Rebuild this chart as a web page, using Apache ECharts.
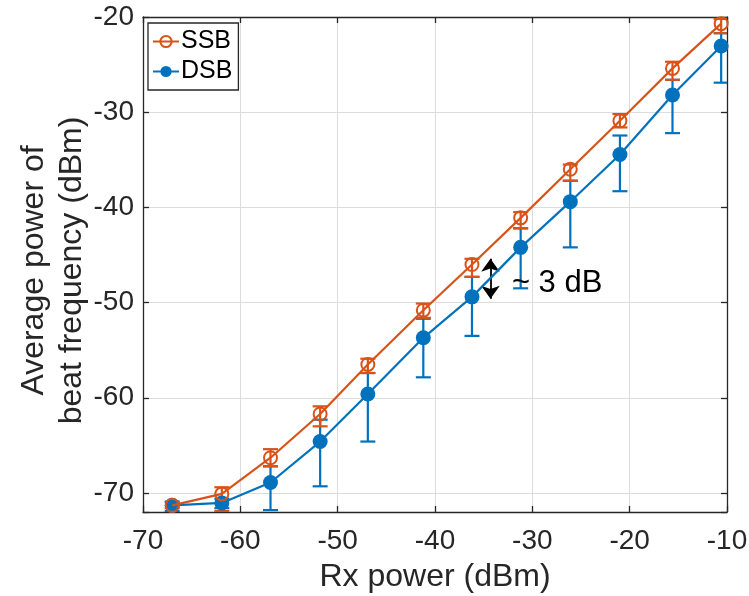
<!DOCTYPE html>
<html>
<head>
<meta charset="utf-8">
<script src="https://cdn.jsdelivr.net/npm/echarts@6/dist/echarts.min.js"></script>
<style>
html,body{margin:0;padding:0;background:#fff;}
#chart{width:749px;height:596px;}
</style>
</head>
<body>
<div id="chart"></div>
<script>
// Data
var rxPower = [-67, -61.9, -56.9, -51.8, -46.9, -41.2, -36.2, -31.2, -26.1, -21.0, -15.6, -10.6];
var ssbMean = [-71.3, -70.1, -66.3, -61.7, -56.5, -50.8, -46.0, -41.1, -36.0, -30.9, -25.4, -20.7];
var ssbHigh = [-71.0, -69.4, -65.4, -60.9, -55.9, -50.1, -45.4, -40.5, -35.5, -30.2, -24.7, -20.2];
var ssbLow  = [-71.6, -71.9, -67.2, -63.0, -57.4, -51.6, -47.3, -42.2, -37.2, -31.6, -26.6, -21.7];
var dsbMean = [-71.3, -71.05, -68.9, -64.6, -59.6, -53.7, -49.4, -44.2, -39.4, -34.45, -28.2, -23.05];
var dsbHigh = [-70.9, -70.6, -67.2, -62.3, -57.4, -51.7, -47.3, -42.2, -37.2, -32.45, -26.6, -21.7];
var dsbLow  = [-71.9, -71.6, -71.8, -69.3, -64.6, -57.85, -53.5, -48.5, -44.2, -38.3, -32.2, -26.9];
var xTicks = [-70, -60, -50, -40, -30, -20, -10];
var yTicks = [-70, -60, -50, -40, -30, -20];
var arrowX = -34.3, arrowTop = -45.4, arrowBottom = -49.6;
var noteX = -32.1, noteY = -48.0, noteText = '~ 3 dB';

var SSB_COLOR = '#D95319', DSB_COLOR = '#0072BD', AX = '#262626';
var FONT = '"Liberation Sans", Arial, Helvetica, sans-serif';

function pairs(xs, ys){ return xs.map(function(x,i){ return [x, ys[i]]; }); }
function triples(xs, lo, hi){ return xs.map(function(x,i){ return [x, lo[i], hi[i]]; }); }

function errRender(color){
  return function(params, api){
    var x = api.value(0), lo = api.value(1), hi = api.value(2);
    var p1 = api.coord([x, lo]), p2 = api.coord([x, hi]);
    var w = 7.5, st = {stroke: color, lineWidth: 2.2};
    return {type:'group', children:[
      {type:'line', shape:{x1:p1[0], y1:p1[1], x2:p2[0], y2:p2[1]}, style:st},
      {type:'line', shape:{x1:p1[0]-w, y1:p1[1], x2:p1[0]+w, y2:p1[1]}, style:st},
      {type:'line', shape:{x1:p2[0]-w, y1:p2[1], x2:p2[0]+w, y2:p2[1]}, style:st}
    ]};
  };
}

var chart = echarts.init(document.getElementById('chart'), null, {renderer:'canvas'});
var axisCommon = {
  axisLine:{show:true, lineStyle:{color:AX, width:1.3}},
  axisTick:{show:true, inside:true, length:6, lineStyle:{color:AX, width:1.3}}
};
var option = {
  animation:false,
  backgroundColor:'#fff',
  textStyle:{fontFamily:FONT},
  grid:{left:143, right:22, top:17, bottom:84, containLabel:false, outerBoundsMode:'none'},
  legend:{
    left:148, top:23, orient:'vertical',
    data:['SSB','DSB'],
    backgroundColor:'#fff', borderColor:AX, borderWidth:1.3,
    padding:[6,6,6,4], itemGap:5, itemWidth:26, itemHeight:14,
    textStyle:{fontSize:25, color:'#000', fontFamily:FONT, padding:[0,0,0,-3]}
  },
  xAxis:[
    Object.assign({type:'value', min:xTicks[0], max:xTicks[xTicks.length-1], interval:10, position:'bottom',
      name:'Rx power (dBm)', nameLocation:'middle', nameGap:49,
      nameTextStyle:{fontSize:32, color:AX, fontFamily:FONT},
      axisLabel:{fontSize:28, color:AX, margin:15, fontFamily:FONT},
      splitLine:{show:true, lineStyle:{color:'#dcdcdc', width:1}}}, axisCommon),
    Object.assign({type:'value', min:xTicks[0], max:xTicks[xTicks.length-1], interval:10, position:'top',
      axisLabel:{show:false}, splitLine:{show:false}}, axisCommon)
  ],
  yAxis:[
    Object.assign({type:'value', min:-72, max:yTicks[yTicks.length-1], splitNumber:5, position:'left',
      name:'Average power of\nbeat frequency (dBm)', nameLocation:'middle', nameGap:52, nameRotate:90,
      nameMoveOverlap:false,
      nameTextStyle:{fontSize:32, color:AX, lineHeight:38, fontFamily:FONT, padding:[0,12,0,0]},
      axisLabel:{fontSize:28, color:AX, margin:9, fontFamily:FONT,
        formatter:function(v){ return yTicks.indexOf(v) >= 0 ? String(v) : ''; }},
      splitLine:{show:true, lineStyle:{color:'#dcdcdc', width:1}}}, axisCommon),
    Object.assign({type:'value', min:-72, max:yTicks[yTicks.length-1], splitNumber:5, position:'right',
      axisLabel:{show:false}, splitLine:{show:false}}, axisCommon)
  ],
  series:[
    {
      name:'DSB err', type:'custom', clip:true, z:3,
      renderItem: errRender(DSB_COLOR),
      encode:{x:0, y:[1,2]},
      data: triples(rxPower, dsbLow, dsbHigh)
    },
    {
      name:'SSB err', type:'custom', clip:true, z:4,
      renderItem: errRender(SSB_COLOR),
      encode:{x:0, y:[1,2]},
      data: triples(rxPower, ssbLow, ssbHigh)
    },
    {
      name:'DSB', type:'line', z:5,
      data: pairs(rxPower, dsbMean),
      symbol:'circle', symbolSize:15, showAllSymbol:true,
      lineStyle:{color:DSB_COLOR, width:2.2},
      itemStyle:{color:DSB_COLOR, borderWidth:0},
      markLine:{
        silent:true, symbol:['arrow','arrow'], symbolSize:[14,13],
        lineStyle:{color:'#000', width:1.8, type:'solid'},
        label:{show:false},
        data:[[{coord:[arrowX, arrowTop]},{coord:[arrowX, arrowBottom]}]]
      },
      markPoint:{
        silent:true, symbol:'circle', symbolSize:0,
        label:{show:true, position:'right', distance:0, formatter:noteText, fontSize:31, color:'#000', fontFamily:FONT},
        data:[{coord:[noteX, noteY]}]
      }
    },
    {
      name:'SSB', type:'line', z:6,
      data: pairs(rxPower, ssbMean),
      symbol:'circle', symbolSize:13, showAllSymbol:true,
      lineStyle:{color:SSB_COLOR, width:2.2},
      itemStyle:{color:'rgba(255,255,255,0)', borderColor:SSB_COLOR, borderWidth:2}
    }
  ]
};
chart.setOption(option);
</script>
</body>
</html>
